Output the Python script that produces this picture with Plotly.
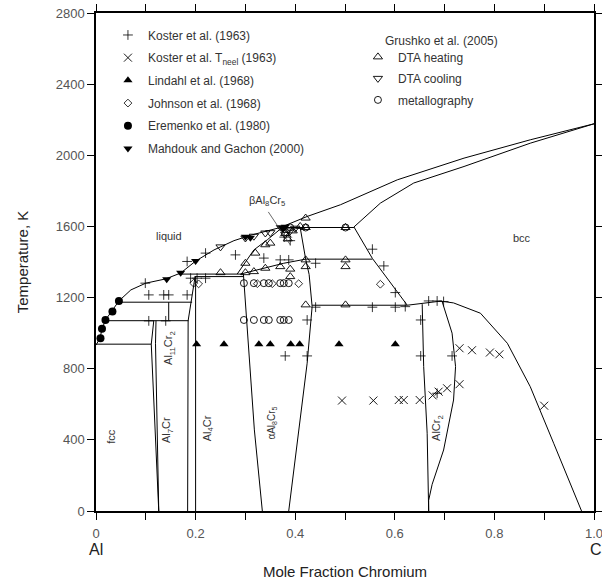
import plotly.graph_objects as go

# ---------------- phase boundaries (x = mole fraction Cr, T in K) ----------------
liq_x = [0, 0.008, 0.012, 0.019, 0.031, 0.046, 0.07, 0.1, 0.14, 0.17, 0.2, 0.237, 0.277, 0.31, 0.37, 0.424, 0.491, 0.605, 0.739, 0.872, 1.0]
liq_T = [933, 971, 1022, 1074, 1121, 1181, 1243, 1281, 1305, 1338, 1405, 1468, 1520, 1550, 1594, 1656, 1722, 1862, 1984, 2087, 2177]

bccsol_x = [0.518, 0.571, 0.638, 0.739, 0.872, 1.0]
bccsol_T = [1597, 1731, 1844, 1937, 2068, 2177]

bccal8_x = [0.518, 0.555, 0.625]
bccal8_T = [1597, 1420, 1157]

dome_x = [0.625, 0.652, 0.692, 0.718, 0.772, 0.826, 0.872, 0.919, 0.975]
dome_T = [1157, 1166, 1180, 1170, 1112, 943, 699, 381, 0]

alcr2L_x = [0.655, 0.658, 0.665, 0.668]
alcr2L_T = [1163, 812, 437, 0]
alcr2R_x = [0.695, 0.715, 0.722, 0.718, 0.698, 0.675, 0.668, 0.668]
alcr2R_T = [1178, 1000, 812, 624, 343, 150, 60, 0]

al8R_x = [0.41, 0.421, 0.428, 0.434, 0.424, 0.407, 0.387]
al8R_T = [1594, 1416, 1330, 1149, 831, 456, 0]
al8L_x = [0.296, 0.304, 0.318, 0.334]
al8L_T = [1332, 1018, 456, 0]
betaL_x = [0.2835, 0.317, 0.344, 0.374]
betaL_T = [1332, 1468, 1525, 1594]
ab_x = [0.29, 0.344, 0.377, 0.421]
ab_T = [1332, 1371, 1393, 1416]

al7L_x = [0.126, 0.111, 0.116]
al7L_T = [0, 938, 1070]
al7R_x = [0.126, 0.1195, 0.1205]
al7R_T = [0, 943, 1070]
al11_x = [0.146, 0.146]
al11_T = [1070, 1174]
al4L_x = [0.184, 0.185, 0.199]
al4L_T = [0, 1070, 1318]
al4R_x = [0.2, 0.2]
al4R_T = [0, 1318]

# horizontal invariant lines: (T, x_start, x_end)
iso_T = [938, 1070, 1174, 1332, 1318, 1416, 1157, 1594]
iso_x0 = [0.0, 0.019, 0.046, 0.166, 0.198, 0.421, 0.434, 0.37]
iso_x1 = [0.111, 0.186, 0.193, 0.296, 0.296, 0.555, 0.625, 0.518]

# ---------------- experimental data ----------------
koster_x = [0.099, 0.106, 0.136, 0.146, 0.183, 0.106, 0.14, 0.22, 0.183, 0.19, 0.203, 0.22, 0.28, 0.337, 0.37, 0.387,
            0.441, 0.555, 0.578, 0.601, 0.441, 0.555, 0.601, 0.621, 0.668, 0.685, 0.698, 0.424, 0.652, 0.38, 0.424,
            0.652, 0.715, 0.685, 0.378, 0.39]
koster_T = [1281, 1215, 1215, 1215, 1215, 1069, 1069, 1450, 1403, 1309, 1309, 1309, 1440, 1422, 1412, 1412,
            1393, 1472, 1378, 1228, 1146, 1146, 1146, 1149, 1181, 1181, 1178, 1074, 1074, 872, 872,
            872, 872, 662, 1540, 1520]

neel_x = [0.494, 0.557, 0.608, 0.618, 0.65, 0.676, 0.688, 0.705, 0.73, 0.73, 0.755, 0.791, 0.81, 0.9, 0.385]
neel_T = [621, 621, 624, 624, 624, 650, 671, 690, 713, 915, 904, 891, 881, 592, 1560]

lind_x = [0.202, 0.257, 0.327, 0.35, 0.391, 0.409, 0.488, 0.601]
lind_T = [938, 938, 938, 938, 938, 938, 938, 938]

john_x = [0.196, 0.206, 0.324, 0.354, 0.407, 0.571]
john_T = [1281, 1277, 1278, 1278, 1278, 1275]

erem_x = [0.009, 0.012, 0.019, 0.033, 0.046]
erem_T = [971, 1024, 1074, 1121, 1181]

mahd_x = [0.142, 0.17, 0.2, 0.3, 0.31, 0.37, 0.38, 0.375]
mahd_T = [1303, 1339, 1405, 1542, 1537, 1596, 1598, 1585]

heat_x = [0.25, 0.3, 0.317, 0.34, 0.37, 0.39, 0.39, 0.3, 0.32, 0.34, 0.35, 0.421, 0.421, 0.501, 0.501,
          0.421, 0.501, 0.421, 0.421, 0.501, 0.38, 0.395, 0.41, 0.385]
heat_T = [1340, 1340, 1346, 1365, 1374, 1360, 1318, 1393, 1450, 1497, 1506, 1412, 1374, 1412, 1374,
          1159, 1159, 1647, 1594, 1594, 1560, 1575, 1600, 1530]

cool_x = [0.25, 0.3, 0.317, 0.34, 0.35, 0.38, 0.39, 0.4]
cool_T = [1485, 1535, 1545, 1563, 1565, 1555, 1575, 1590]

met_x = [0.297, 0.317, 0.337, 0.347, 0.37, 0.377, 0.387, 0.297, 0.317, 0.337, 0.347, 0.37, 0.377, 0.387, 0.421, 0.501, 0.39]
met_T = [1281, 1281, 1281, 1281, 1281, 1281, 1281, 1074, 1074, 1074, 1074, 1074, 1074, 1074, 1594, 1594, 1594]

x_ticks = [0, 0.1, 0.2, 0.3, 0.4, 0.5, 0.6, 0.7, 0.8, 0.9, 1.0]
x_ticktext = ["0", "", "0.2", "", "0.4", "", "0.6", "", "0.8", "", "1.0"]
y_ticks = [0, 400, 800, 1200, 1600, 2000, 2400, 2800]

FONT = "Liberation Sans, Arial, sans-serif"
TXT = "#333333"

fig = go.Figure()

def add_line(x, y):
    fig.add_trace(go.Scatter(x=x, y=y, mode="lines", line=dict(color="black", width=1),
                             showlegend=False, hoverinfo="skip"))

for xs, ys in [(liq_x, liq_T), (bccsol_x, bccsol_T), (bccal8_x, bccal8_T), (dome_x, dome_T),
               (alcr2L_x, alcr2L_T), (alcr2R_x, alcr2R_T), (al8R_x, al8R_T), (al8L_x, al8L_T),
               (betaL_x, betaL_T), (ab_x, ab_T), (al7L_x, al7L_T), (al7R_x, al7R_T),
               (al11_x, al11_T), (al4L_x, al4L_T), (al4R_x, al4R_T)]:
    add_line(xs, ys)
for T, a, b in zip(iso_T, iso_x0, iso_x1):
    add_line([a, b], [T, T])

def add_pts(x, y, name, symbol, size, legend, group, lw=1.0):
    fig.add_trace(go.Scatter(x=x, y=y, mode="markers", name=name, legend=legend, legendgroup=group,
                             marker=dict(symbol=symbol, size=size, color="black",
                                         line=dict(color="black", width=lw))))

add_pts(koster_x, koster_T, "Koster et al. (1963)", "cross-thin", 7, "legend", "g1", 0.8)
add_pts(neel_x, neel_T, "Koster et al. T<sub>neel</sub> (1963)", "x-thin", 8, "legend", "g2", 0.9)
add_pts(lind_x, lind_T, "Lindahl et al. (1968)", "triangle-up", 8, "legend", "g3", 0)
add_pts(john_x, john_T, "Johnson et al. (1968)", "diamond-open", 6, "legend", "g4", 0.8)
add_pts(erem_x, erem_T, "Eremenko et al. (1980)", "circle", 8, "legend", "g5", 0)
add_pts(mahd_x, mahd_T, "Mahdouk and Gachon (2000)", "triangle-down", 8, "legend", "g6", 0)
add_pts(heat_x, heat_T, "DTA heating", "triangle-up-open", 8, "legend2", "h1", 0.9)
add_pts(cool_x, cool_T, "DTA cooling", "triangle-down-open", 8, "legend2", "h2", 0.9)
add_pts(met_x, met_T, "metallography", "circle-open", 7, "legend2", "h3", 0.9)

ann = []
def label(x, y, text, angle=0, size=11):
    ann.append(dict(x=x, y=y, xref="x", yref="y", text=text, showarrow=False, textangle=angle,
                    font=dict(family=FONT, size=size, color=TXT)))

label(0.146, 1545, "liquid")
label(0.856, 1534, "bcc")
label(0.031, 420, "fcc", -90)
label(0.143, 456, "Al<sub>7</sub>Cr", -90)
label(0.225, 465, "Al<sub>4</sub>Cr", -90)
label(0.354, 493, "αAl<sub>8</sub>Cr<sub>5</sub>", -90, 10)
label(0.686, 465, "AlCr<sub>2</sub>", -90)
label(0.148, 915, "Al<sub>11</sub>Cr<sub>2</sub>", -90)
label(0.344, 1745, "βAl<sub>8</sub>Cr<sub>5</sub>", 0, 11)
ann.append(dict(x=0.39, y=1497, ax=0.344, ay=1690, xref="x", yref="y", axref="x", ayref="y",
                showarrow=True, arrowhead=0, arrowwidth=0.8, arrowcolor="#444", text=""))
ann.append(dict(x=0.0, y=-0.0783, xref="x", yref="paper", text="Al", showarrow=False,
                xanchor="center", yanchor="middle", font=dict(family=FONT, size=16, color="#222")))
ann.append(dict(x=0.987, y=-0.0783, xref="paper", yref="paper", text="Cr", showarrow=False,
                xanchor="left", yanchor="middle", font=dict(family=FONT, size=16, color="#222")))
ann.append(dict(x=0.577, y=0.943, xref="paper", yref="paper", text="Grushko et al. (2005)",
                showarrow=False, xanchor="left", yanchor="middle",
                font=dict(family=FONT, size=12, color=TXT)))

axis_common = dict(showline=True, linecolor="black", linewidth=1.5, mirror="ticks", ticks="outside",
                   ticklen=7, tickwidth=1, tickcolor="black", showgrid=False, zeroline=False,
                   automargin=False, ticklabeloverflow="allow",
                   tickfont=dict(family=FONT, size=13, color="#555"))

fig.update_layout(
    width=602, height=582,
    margin=dict(l=96, r=8, t=13, b=71, autoexpand=False),
    plot_bgcolor="white", paper_bgcolor="white",
    annotations=ann,
    xaxis=dict(range=[0, 1], tickvals=x_ticks, ticktext=x_ticktext, ticklabelstandoff=3,
               title=dict(text="Mole Fraction Chromium", standoff=26,
                          font=dict(family=FONT, size=15, color="#222")), **axis_common),
    yaxis=dict(range=[0, 2800], tickvals=y_ticks,
               title=dict(text="Temperature, K", standoff=23,
                          font=dict(family=FONT, size=15, color="#222")), **axis_common),
    legend=dict(x=0.024, y=0.985, xanchor="left", yanchor="top", bgcolor="rgba(0,0,0,0)",
                tracegroupgap=3.7, itemwidth=30, font=dict(family=FONT, size=12, color=TXT)),
    legend2=dict(x=0.526, y=0.941, xanchor="left", yanchor="top", bgcolor="rgba(0,0,0,0)",
                 tracegroupgap=2.5, itemwidth=30,
                 font=dict(family=FONT, size=12, color=TXT)),
)

# remove the browser's default 8px body margin so the figure sits at the page origin
fig.write_html("out.html", config={"displayModeBar": False},
               post_script="document.body.style.margin='0px';")
